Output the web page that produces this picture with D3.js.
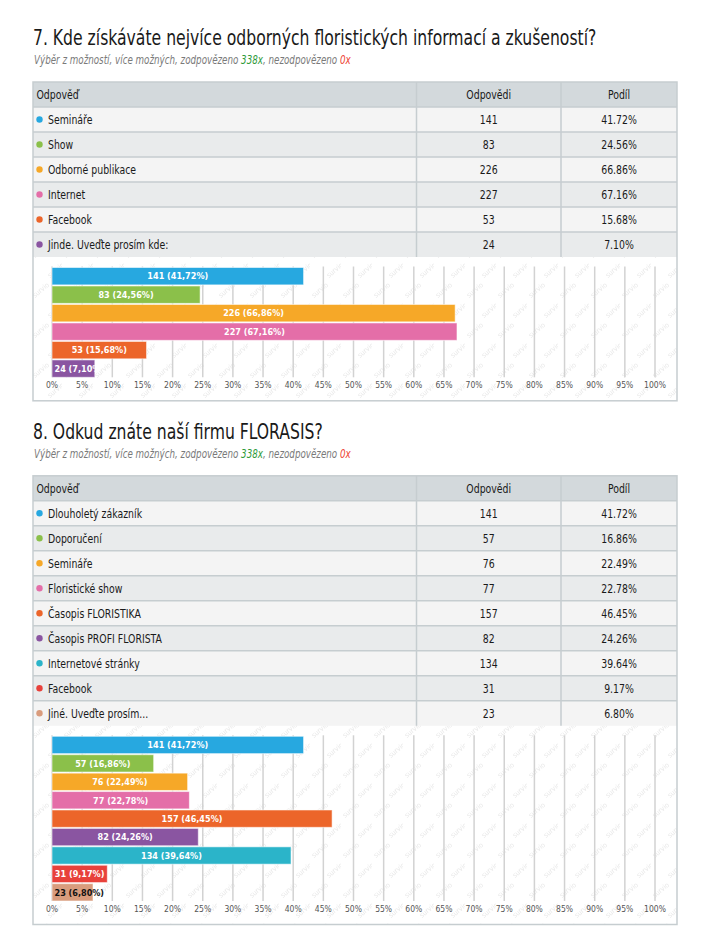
<!DOCTYPE html>
<html>
<head>
<meta charset="utf-8">
<script src="https://cdn.jsdelivr.net/npm/d3@7"></script>
<style>
  body { margin: 0; background: #fff; }
  svg { display: block; }
  .narrow { font-family: "DejaVu Sans Condensed", "DejaVu Sans", sans-serif; }
  .cond { font-family: "DejaVu Sans Condensed", "DejaVu Sans", sans-serif; }
</style>
</head>
<body>
<div id="chart"></div>
<script>
// DATOS - otázka 7
const q7Title = "7. Kde získáváte nejvíce odborných floristických informací a zkušeností?";
const q7Labels = ["Semináře", "Show", "Odborné publikace", "Internet", "Facebook", "Jinde. Uveďte prosím kde:"];
const q7Counts = [141, 83, 226, 227, 53, 24];
const q7Shares = [41.72, 24.56, 66.86, 67.16, 15.68, 7.10];
const q7Colors = ["#27a8e0", "#8bc04a", "#f6a828", "#e46ea8", "#ec652a", "#8a55a1"];
const q7TextColors = ["#fff", "#fff", "#fff", "#fff", "#fff", "#fff"];

// DATOS - otázka 8
const q8Title = "8. Odkud znáte naší firmu FLORASIS?";
const q8Labels = ["Dlouholetý zákazník", "Doporučení", "Semináře", "Floristické show", "Časopis FLORISTIKA",
                  "Časopis PROFI FLORISTA", "Internetové stránky", "Facebook", "Jiné. Uveďte prosím..."];
const q8Counts = [141, 57, 76, 77, 157, 82, 134, 31, 23];
const q8Shares = [41.72, 16.86, 22.49, 22.78, 46.45, 24.26, 39.64, 9.17, 6.80];
const q8Colors = ["#27a8e0", "#8bc04a", "#f6a828", "#e46ea8", "#ec652a", "#8a55a1", "#2bb4c9", "#e8413b", "#d99c7d"];
const q8TextColors = ["#fff", "#fff", "#fff", "#fff", "#fff", "#fff", "#fff", "#fff", "#111"];

const answered = "338x", unanswered = "0x";
const tickValues = [0, 5, 10, 15, 20, 25, 30, 35, 40, 45, 50, 55, 60, 65, 70, 75, 80, 85, 90, 95, 100];
const headers = ["Odpověď", "Odpovědi", "Podíl"];

// CONFIG
const W = 710, H = 942;
const tableLeft = 33, tableRight = 677;
const colEdges = [33, 416.5, 561, 677];
const rowH = 25;
const bandH = 18.3;
const BODY_SQ = 0.8;   // stlačení písma, originál používá úzký font

const svg = d3.select("#chart").append("svg").attr("width", W).attr("height", H);
const defs = svg.append("defs");

// vodoznak survio
const pat = defs.append("pattern").attr("id", "wm").attr("patternUnits", "userSpaceOnUse")
    .attr("width", 31).attr("height", 40);
[[4, 18], [19, 38]].forEach(p => {
    pat.append("text").attr("x", p[0]).attr("y", p[1])
        .attr("transform", `rotate(-40 ${p[0]} ${p[1]})`)
        .attr("class", "cond").style("font-size", "7px").style("fill", "#e8e8e8")
        .text("survio");
});

const x = d3.scaleLinear().domain([0, 100]).range([52, 655]);

// text v úzkém řezu (scaleX)
function ntext(parent, tx, ty, f) {
    return parent.append("g").attr("transform", `translate(${tx},${ty}) scale(${f},1)`)
        .append("text").attr("class", "narrow");
}

function section(y0, title, labels, counts, shares, colors, textColors, id) {
    const g = svg.append("g");
    // titulek
    ntext(g, tableLeft, y0, 0.79).style("font-size", "22px").style("fill", "#1a1a1a").text(title);
    const sub = ntext(g, tableLeft + 1, y0 + 19, 0.81)
        .style("font-size", "12px").style("font-style", "italic").style("fill", "#7a7a7a");
    sub.append("tspan").text("Výběr z možností, více možných, zodpovězeno ");
    sub.append("tspan").style("fill", "#2f9a3a").text(answered);
    sub.append("tspan").text(", nezodpovězeno ");
    sub.append("tspan").style("fill", "#ee4433").text(unanswered);

    // tabulka
    const tTop = y0 + 37;
    g.append("rect").attr("x", tableLeft).attr("y", tTop).attr("width", tableRight - tableLeft).attr("height", rowH)
        .style("fill", "#d3d9dc");
    labels.forEach((l, i) => {
        g.append("rect").attr("x", tableLeft).attr("y", tTop + rowH * (i + 1))
            .attr("width", tableRight - tableLeft).attr("height", rowH)
            .style("fill", i % 2 === 0 ? "#f4f4f4" : "#e9ebec");
    });
    const nRows = labels.length + 1;
    for (let r = 1; r < nRows; r++) {
        g.append("line").attr("x1", tableLeft).attr("x2", tableRight)
            .attr("y1", tTop + rowH * r).attr("y2", tTop + rowH * r)
            .style("stroke", "#c6cdd0").style("stroke-width", 1.5);
    }
    colEdges.slice(1, 3).forEach(cx => {
        g.append("line").attr("x1", cx).attr("x2", cx).attr("y1", tTop).attr("y2", tTop + rowH * nRows)
            .style("stroke", "#c6cdd0").style("stroke-width", 1.5);
    });
    ntext(g, tableLeft + 3.5, tTop + 17, BODY_SQ).style("font-size", "13px").style("fill", "#1a1a1a").text(headers[0]);
    [1, 2].forEach(c => {
        ntext(g, (colEdges[c] + colEdges[c + 1]) / 2, tTop + 17, BODY_SQ)
            .attr("text-anchor", "middle").style("font-size", "13px").style("fill", "#1a1a1a").text(headers[c]);
    });
    labels.forEach((l, i) => {
        const ry = tTop + rowH * (i + 1);
        g.append("circle").attr("cx", 39.5).attr("cy", ry + 12.5).attr("r", 3.2).style("fill", colors[i]);
        ntext(g, 48, ry + 17, BODY_SQ).style("font-size", "13px").style("fill", "#1a1a1a").text(l);
        ntext(g, (colEdges[1] + colEdges[2]) / 2, ry + 17, BODY_SQ)
            .attr("text-anchor", "middle").style("font-size", "13px").style("fill", "#1a1a1a").text(counts[i]);
        ntext(g, (colEdges[2] + colEdges[3]) / 2, ry + 17, BODY_SQ)
            .attr("text-anchor", "middle").style("font-size", "13px").style("fill", "#1a1a1a")
            .text(shares[i].toFixed(2) + "%");
    });

    // graf
    const cTop = tTop + rowH * nRows;
    const barsTop = cTop + 10.5;
    const barsBottom = barsTop + bandH * labels.length;
    const cBottom = barsBottom + 23.5;
    g.append("rect").attr("x", tableLeft).attr("y", cTop).attr("width", tableRight - tableLeft).attr("height", cBottom - cTop)
        .style("fill", "url(#wm)");
    g.append("rect").attr("x", tableLeft).attr("y", tTop).attr("width", tableRight - tableLeft).attr("height", cBottom - tTop)
        .style("fill", "none").style("stroke", "#c6cdd0").style("stroke-width", 1.5);

    const y = d3.scaleBand().domain(d3.range(labels.length)).range([barsTop, barsBottom]).paddingInner(0.06);

    g.selectAll(".grid").data(tickValues).enter().append("line")
        .attr("x1", d => x(d)).attr("x2", d => x(d))
        .attr("y1", barsTop - 1).attr("y2", barsBottom)
        .style("stroke", "#d2d2d2").style("stroke-width", 1.5);
    g.selectAll(".tick").data(tickValues).enter().append("text").attr("class", "cond")
        .attr("x", d => x(d)).attr("y", barsBottom + 11)
        .attr("text-anchor", "middle").style("font-size", "8.5px").style("fill", "#555")
        .text(d => d + "%");

    labels.forEach((l, i) => {
        const bw = x(shares[i]) - x(0);
        defs.append("clipPath").attr("id", `clip${id}_${i}`).append("rect")
            .attr("x", x(0)).attr("y", y(i)).attr("width", bw).attr("height", y.bandwidth());
        g.append("rect").attr("x", x(0)).attr("y", y(i)).attr("width", bw).attr("height", y.bandwidth())
            .style("fill", colors[i]).style("stroke", "rgba(255,255,255,0.55)").style("stroke-width", 1);
        const t = g.append("text").attr("class", "cond")
            .attr("y", y(i) + y.bandwidth() / 2 + 3.3)
            .style("font-size", "9px").style("font-weight", "bold").style("fill", textColors[i])
            .text(`${counts[i]} (${shares[i].toFixed(2).replace(".", ",")}%)`);
        const tw = t.node().getComputedTextLength();
        if (tw + 2 < bw) {
            t.attr("x", x(0) + bw / 2).attr("text-anchor", "middle");
        } else {
            t.attr("x", x(0) + 2.5);
            if (textColors[i] === "#fff") t.attr("clip-path", `url(#clip${id}_${i})`);
        }
    });
    return cBottom;
}

const end7 = section(45, q7Title, q7Labels, q7Counts, q7Shares, q7Colors, q7TextColors, "a");
section(end7 + 38, q8Title, q8Labels, q8Counts, q8Shares, q8Colors, q8TextColors, "b");
</script>
</body>
</html>
